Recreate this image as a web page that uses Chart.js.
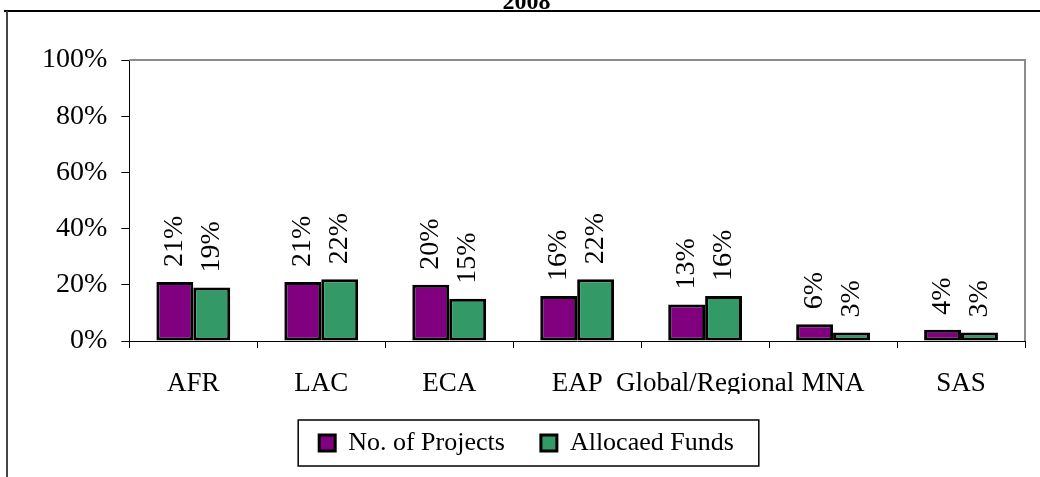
<!DOCTYPE html>
<html>
<head>
<meta charset="utf-8">
<style>
  html, body { margin: 0; padding: 0; background: #ffffff; }
  #wrap { width: 1040px; height: 477px; position: relative; }
  .fontwarm { position: absolute; left: -9999px; top: 0; font-family: "Liberation Serif"; font-size: 26px; }
</style>
<script src="https://cdn.jsdelivr.net/npm/chart.js@4.4.1/dist/chart.umd.min.js"></script>
</head>
<body>
<div class="fontwarm">No. of Projects <b>2008</b></div>
<div id="wrap"><canvas id="chart" width="1040" height="477"></canvas></div>
<script>
// Regions and their shares (percent)
const regions = ['AFR', 'LAC', 'ECA', 'EAP', 'Global/Regional', 'MNA', 'SAS'];
const projectShares = [21, 21, 20, 16, 13, 6, 4];
const fundShares = [19, 22, 15, 22, 16, 3, 3];
const seriesNames = ['No. of Projects', 'Allocaed Funds'];
const yTicks = [0, 20, 40, 60, 80, 100];
const chartTitle = '2008';

const SERIF = '"Liberation Serif", "Times New Roman", serif';

// White page, outer frame lines
const framePlugin = {
  id: 'frame',
  beforeDraw(chart) {
    const ctx = chart.ctx;
    ctx.save();
    ctx.fillStyle = '#ffffff';
    ctx.fillRect(0, 0, chart.width, chart.height);
    ctx.strokeStyle = '#000000';
    ctx.lineWidth = 2;
    ctx.beginPath();
    ctx.moveTo(4, 11);
    ctx.lineTo(chart.width, 11);
    ctx.stroke();
    ctx.strokeStyle = '#444444';
    ctx.beginPath();
    ctx.moveTo(7, 11);
    ctx.lineTo(7, chart.height);
    ctx.stroke();
    ctx.restore();
  },
  // gray top and right edges of the plot area
  beforeDatasetsDraw(chart) {
    const {ctx, chartArea: a} = chart;
    ctx.save();
    ctx.strokeStyle = '#8c8c8c';
    ctx.lineWidth = 2;
    ctx.beginPath();
    ctx.moveTo(a.left, a.top);
    ctx.lineTo(a.right, a.top);
    ctx.lineTo(a.right, a.bottom);
    ctx.stroke();
    ctx.restore();
  }
};

// Rotated value labels above each bar
const valueLabelPlugin = {
  id: 'valueLabels',
  afterDatasetsDraw(chart) {
    const ctx = chart.ctx;
    ctx.save();
    ctx.fillStyle = '#000000';
    ctx.font = '28px ' + SERIF;
    ctx.textAlign = 'left';
    ctx.textBaseline = 'middle';
    chart.data.datasets.forEach((ds, di) => {
      const meta = chart.getDatasetMeta(di);
      meta.data.forEach((bar, i) => {
        const text = Math.round(ds.data[i]) + '%';
        ctx.save();
        ctx.translate(bar.x, bar.y - 15);
        ctx.rotate(-Math.PI / 2);
        ctx.fillText(text, 0, 0);
        ctx.restore();
      });
    });
    ctx.restore();
  }
};

// Box around the legend entries
const legendFramePlugin = {
  id: 'legendFrame',
  afterDraw(chart) {
    const boxes = chart.legend && chart.legend.legendHitBoxes;
    if (!boxes || !boxes.length) return;
    const first = boxes[0];
    const last = boxes[boxes.length - 1];
    const cy = first.top + first.height / 2;
    const left = first.left - 21;
    const right = last.left + last.width + 25;
    const ctx = chart.ctx;
    ctx.save();
    ctx.strokeStyle = '#000000';
    ctx.lineWidth = 1.5;
    ctx.strokeRect(left, cy - 23, right - left, 46);
    ctx.restore();
  }
};

function drawChart() {
  new Chart(document.getElementById('chart'), {
    type: 'bar',
    data: {
      labels: regions,
      datasets: [
        {
          label: seriesNames[0],
          data: projectShares,
          backgroundColor: '#800080',
          borderColor: '#000000',
          borderWidth: 3,
          borderSkipped: false
        },
        {
          label: seriesNames[1],
          data: fundShares,
          backgroundColor: '#339966',
          borderColor: '#000000',
          borderWidth: 3,
          borderSkipped: false
        }
      ]
    },
    options: {
      responsive: false,
      animation: false,
      devicePixelRatio: 1,
      layout: { padding: { left: 28, right: 15, top: -12, bottom: 11 } },
      datasets: { bar: { categoryPercentage: 0.577, barPercentage: 1 } },
      scales: {
        x: {
          afterFit(scale) { scale.height = 53; },
          grid: { display: true, offset: true, drawOnChartArea: false, drawTicks: true, tickLength: 7, color: '#000000', lineWidth: 1 },
          border: { display: true, color: '#000000', width: 1 },
          ticks: {
            color: '#000000',
            font: { family: SERIF, size: 27 },
            padding: 20,
            maxRotation: 0,
            minRotation: 0,
            autoSkip: false
          }
        },
        y: {
          min: 0,
          max: 100,
          afterBuildTicks(scale) { scale.ticks = yTicks.map(v => ({ value: v })); },
          grid: { display: true, drawOnChartArea: false, drawTicks: true, tickLength: 8, color: '#000000', lineWidth: 1 },
          border: { display: true, color: '#000000', width: 1 },
          ticks: {
            color: '#000000',
            font: { family: SERIF, size: 28 },
            padding: 14,
            callback: v => v + '%'
          }
        }
      },
      plugins: {
        title: {
          display: true,
          text: chartTitle,
          color: '#000000',
          font: { family: SERIF, size: 24, weight: 'bold' },
          padding: { top: 0, bottom: 43.2 }
        },
        legend: {
          display: true,
          position: 'bottom',
          labels: {
            color: '#000000',
            font: { family: SERIF, size: 26 },
            boxWidth: 16,
            boxHeight: 16,
            padding: 36
          }
        },
        tooltip: { enabled: false }
      }
    },
    plugins: [framePlugin, valueLabelPlugin, legendFramePlugin]
  });
}

// Make sure the serif face is ready before the canvas measures text
const fontLoads = [
  '26px "Liberation Serif"',
  '27px "Liberation Serif"',
  '28px "Liberation Serif"',
  'bold 24px "Liberation Serif"'
].map(f => document.fonts.load(f));
Promise.all(fontLoads).then(drawChart, drawChart);
</script>
</body>
</html>
